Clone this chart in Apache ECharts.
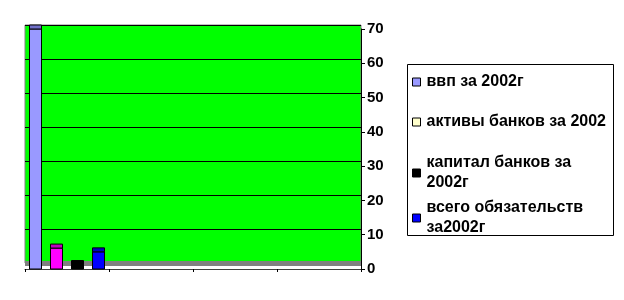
<!DOCTYPE html>
<html><head><meta charset="utf-8">
<script src="https://cdn.jsdelivr.net/npm/echarts@6/dist/echarts.min.js"></script>
<style>html,body{margin:0;padding:0;background:#fff}#c{width:624px;height:300px}</style>
</head><body><div id="c"></div>
<script>
const categories = ['1', '2', '3', '4'];
const seriesNames = ['ввп за 2002г', 'активы банков за 2002', 'капитал банков за\n2002г', 'всего обязательств\nза2002г'];
const vvp = [70, '-', '-', '-'];
const aktivy = [6.1, '-', '-', '-'];
const kapital = [1.3, '-', '-', '-'];
const obyaz = [5, '-', '-', '-'];
const yTicks = [0, 10, 20, 30, 40, 50, 60, 70];

const seriesValues = [vvp, aktivy, kapital, obyaz];
const barColors = ['#9999FF', '#FF00FF', '#000000', '#0000FF'];
const topColors = ['#7070C8', '#C000C0', '#000000', '#0000C0'];
const legendColors = ['#9999FF', '#FFFFCC', '#000000', '#0000FF'];
const offsets = [-31.5, -10.5, 10.5, 31.5];
const FONT = 'Liberation Sans, Arial, sans-serif';

const chart = echarts.init(document.getElementById('c'), null, {renderer: 'canvas'});

function makeRender(k) {
  return function (params, api) {
    const v = api.value(1);
    if (isNaN(v)) return;
    const top = api.coord([api.value(0), v]);
    const base = api.coord([api.value(0), 0]);
    const x0 = top[0] + offsets[k] - 6;
    const w = 12;
    return {
      type: 'group',
      children: [
        {type: 'rect', shape: {x: x0, y: top[1], width: w, height: base[1] - top[1]},
         style: {fill: barColors[k], stroke: '#000', lineWidth: 1}},
        {type: 'rect', shape: {x: x0, y: top[1] - 4, width: w, height: 4},
         style: {fill: topColors[k], stroke: '#000', lineWidth: 1}}
      ]
    };
  };
}

const series = seriesValues.map((vals, k) => ({
  name: seriesNames[k],
  type: 'custom',
  xAxisIndex: 1,
  yAxisIndex: 1,
  itemStyle: {color: barColors[k]},
  encode: {x: 0, y: 1},
  data: vals.map((v, i) => [i, v]),
  renderItem: makeRender(k),
  z: 5
}));

const legendTops = [72, 112, 143, 188];
const legends = seriesNames.map((n, k) => ({
  left: 412,
  top: legendTops[k],
  orient: 'vertical',
  padding: 0,
  icon: 'rect',
  itemWidth: 8,
  itemHeight: 8,
  selectedMode: false,
  itemStyle: {borderColor: '#000', borderWidth: 1},
  textStyle: {fontFamily: FONT, fontWeight: 'bold', fontSize: 16, color: '#000', lineHeight: 20,
    padding: n.indexOf('\n') >= 0 ? [20, 0, 0, 1] : [0, 0, 0, 1]},
  data: [{name: n, itemStyle: {color: legendColors[k], borderColor: '#000', borderWidth: 1}}]
}));

chart.setOption({
  animation: false,
  backgroundColor: '#fff',
  graphic: [{type: 'rect', left: 407, top: 64, shape: {width: 206, height: 171},
    style: {fill: '#fff', stroke: '#000', lineWidth: 1}, z: -1}],
  legend: legends,
  grid: [
    {left: 25, top: 25, width: 336, height: 238, show: true, backgroundColor: '#00FF00', borderColor: '#808080', borderWidth: 1},
    {left: 25, top: 29, width: 336, height: 240, show: false}
  ],
  xAxis: [
    {type: 'category', gridIndex: 0, data: categories, offset: 4,
     axisLine: {show: true, lineStyle: {color: '#808080', width: 5, cap: 'butt'}},
     axisTick: {show: false}, axisLabel: {show: false}, splitLine: {show: false}},
    {type: 'category', gridIndex: 1, data: categories,
     axisLine: {show: true, lineStyle: {color: '#404040', width: 1}},
     axisTick: {show: true, length: 3, lineStyle: {color: '#000'}}, axisLabel: {show: false}}
  ],
  yAxis: [
    {type: 'value', gridIndex: 0, min: yTicks[0], max: yTicks[yTicks.length - 1], interval: 10,
     axisLine: {show: false}, axisTick: {show: false}, axisLabel: {show: false},
     splitLine: {show: true, lineStyle: {color: '#000', width: 1}}},
    {type: 'value', gridIndex: 1, position: 'right', min: yTicks[0], max: yTicks[yTicks.length - 1], interval: 10,
     axisLine: {show: true, lineStyle: {color: '#000', width: 1}},
     axisTick: {show: true, inside: false, length: 4, lineStyle: {color: '#000'}},
     axisLabel: {show: true, margin: 6, fontFamily: FONT, fontWeight: 'bold', fontSize: 15, color: '#000'},
     splitLine: {show: false}}
  ],
  series: series
});
</script></body></html>
